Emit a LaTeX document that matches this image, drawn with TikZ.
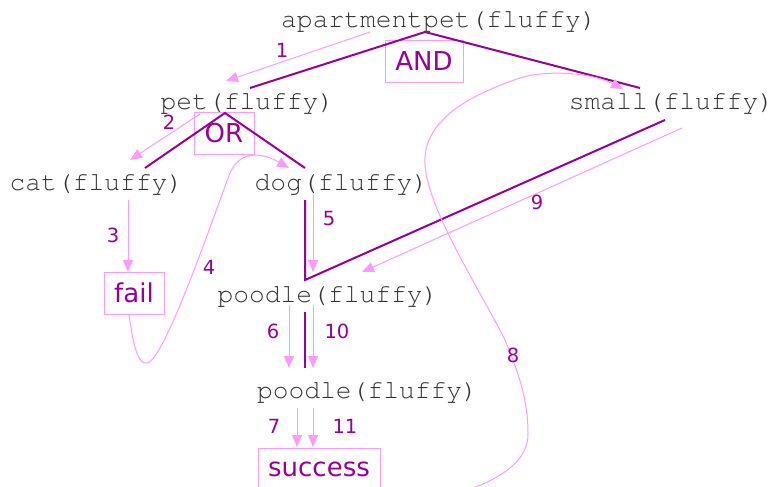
\documentclass[tikz,border=0pt]{standalone}
\usepackage{fontspec}
\setmainfont{DejaVu Sans}
\newfontfamily\termfont[Ligatures={NoCommon,NoRequired,NoContextual}]{TeX Gyre Cursor}
\usetikzlibrary{arrows.meta}
\definecolor{plum}{HTML}{990099}
\definecolor{pinkish}{HTML}{FF99FF}
\definecolor{termgray}{HTML}{333333}
\tikzset{
  term/.style={anchor=base, inner sep=0pt, text=termgray, font=\termfont\fontsize{26.3}{30}\selectfont},
  opbox/.style={draw=pinkish, line width=1pt, inner sep=0pt, text=plum, minimum height=42pt, font=\fontsize{26}{30}\selectfont},
  num/.style={inner sep=0pt, text=plum, font=\fontsize{19.5}{22}\selectfont},
  tree/.style={draw=plum, line width=2pt, line join=miter},
  trace/.style={draw=pinkish, line width=1pt, -{Triangle[length=12pt,width=10pt]}},
}
\begin{document}
\begin{tikzpicture}[x=1pt,y=-1pt]
\clip (0,0) rectangle (774,487);
\fill[white] (0,0) rectangle (774,487);
% term nodes
\node[term] (apt) at (439,28) {apartmentpet(fluffy)};
\node[term] (pet) at (247.5,110) {pet(fluffy)};
\node[term] (small) at (671.5,110) {small(fluffy)};
\node[term] (cat) at (96.5,190) {cat(fluffy)};
\node[term] (dog) at (341.5,190) {dog(fluffy)};
\node[term] (poodleA) at (328,302) {poodle(fluffy)};
\node[term] (poodleB) at (367.5,398) {poodle(fluffy)};
% boxes
\node[opbox, minimum width=78pt] (and) at (424,61.5) {AND};
\node[opbox, minimum width=60pt] (or) at (224,133) {OR};
\node[opbox, minimum width=60pt] (fail) at (134,293) {fail};
\node[opbox, minimum width=122pt] (success) at (319,469) {success};
% endpoint coordinates
\coordinate (andTop) at (425,32);
\coordinate (andL) at (250,88);
\coordinate (andR) at (640,88);
\coordinate (orTop) at (225,113);
\coordinate (orL) at (145,168);
\coordinate (orR) at (305,168);
\coordinate (dogBot) at (305,200);
\coordinate (andCorner) at (305,280);
\coordinate (smallBot) at (665,120);
\coordinate (ppTop) at (305,312);
\coordinate (ppBot) at (305,368);
% tree edges
\draw[tree] (andL) -- (andTop) -- (andR);
\draw[tree] (orL) -- (orTop) -- (orR);
\draw[tree] (dogBot) -- (andCorner) -- (smallBot);
\draw[tree] (ppTop) -- (ppBot);
% trace coordinates
\coordinate (s1) at (370,32);   \coordinate (e1) at (226,81);
\coordinate (s2) at (200,114);  \coordinate (e2) at (130,160);
\coordinate (s3) at (128,200);  \coordinate (e3) at (128,272);
\coordinate (s4) at (129,314);  \coordinate (e4) at (289,168);
\coordinate (s5) at (313,194);  \coordinate (e5) at (313,272);
\coordinate (s6) at (289,305);  \coordinate (e6) at (289,368);
\coordinate (s10) at (313,305); \coordinate (e10) at (313,368);
\coordinate (s7) at (297,408);  \coordinate (e7) at (297,447);
\coordinate (s11) at (313,408); \coordinate (e11) at (313,447);
\coordinate (s8) at (462,492);  \coordinate (e8) at (623,89);
\coordinate (s9) at (682,128);  \coordinate (e9) at (362,272);
% traces
\draw[trace] (s1) -- (e1);
\draw[trace] (s2) -- (e2);
\draw[trace] (s3) -- (e3);
\draw[trace] (s4) .. controls (133,345) and (138,365) .. (147,363)
   .. controls (165,360) and (215,212) .. (230,173)
   .. controls (241,148) and (265,154) .. (e4);
\draw[trace] (s5) -- (e5);
\draw[trace] (s6) -- (e6);
\draw[trace] (s10) -- (e10);
\draw[trace] (s7) -- (e7);
\draw[trace] (s11) -- (e11);
\draw[trace] (s8) .. controls (505,478) and (529,458) .. (528,433)
   .. controls (528,395) and (515,365) .. (505,340)
   .. controls (480,290) and (428,210) .. (425,165)
   .. controls (422,120) and (470,95) .. (520,78)
   .. controls (545,70) and (590,72) .. (e8);
\draw[trace] (s9) -- (e9);
% numbers
\node[num] (n1) at (282,50) {1};
\node[num] (n2) at (169,122) {2};
\node[num] (n3) at (113,235) {3};
\node[num] (n4) at (209,267) {4};
\node[num] (n5) at (329,219) {5};
\node[num] (n6) at (273,331) {6};
\node[num] (n10) at (337,331) {10};
\node[num] (n7) at (274,426) {7};
\node[num] (n11) at (345,426) {11};
\node[num] (n8) at (513,355) {8};
\node[num] (n9) at (537,202) {9};
\end{tikzpicture}
\end{document}
